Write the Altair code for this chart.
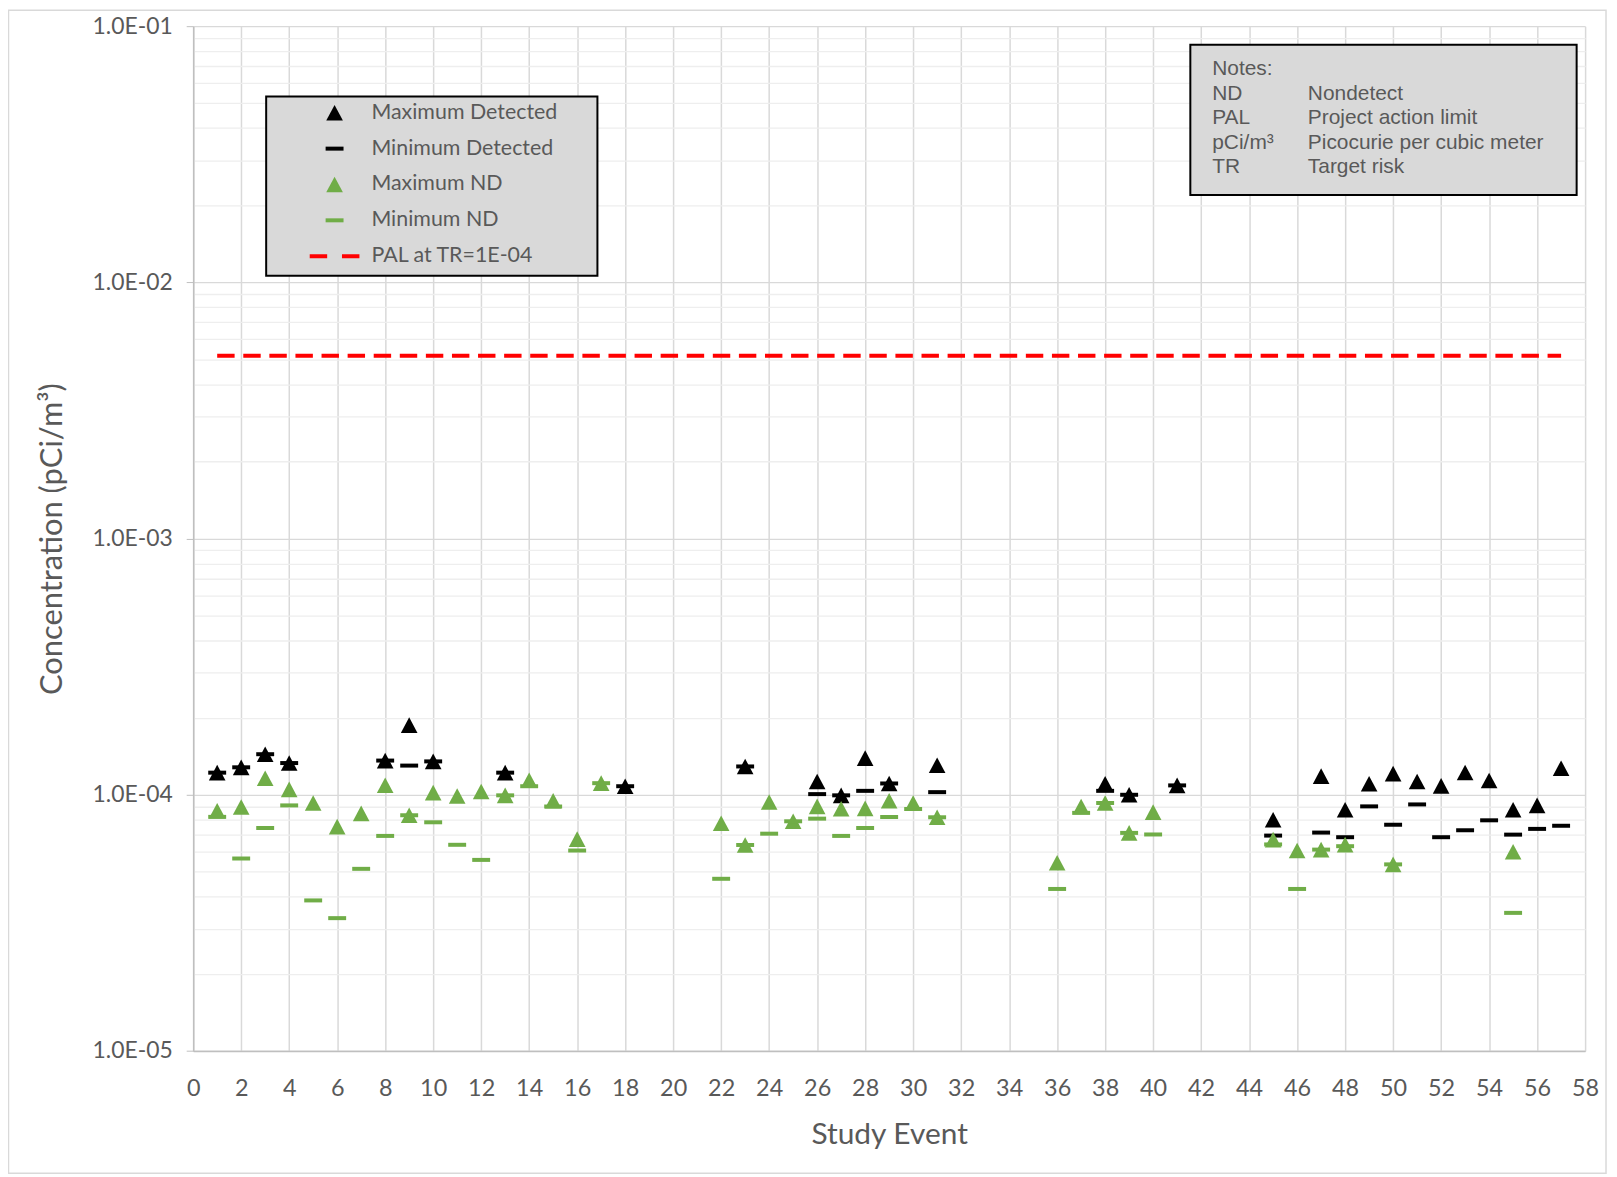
import altair as alt
import pandas as pd

N = None
events = list(range(1, 58))
max_detected = [1.22e-4, 1.28e-4, 1.44e-4, 1.33e-4, N, N, N, 1.36e-4, 1.87e-4, 1.35e-4,
                N, N, 1.22e-4, N, N, N, N, 1.08e-4, N, N,
                N, N, 1.29e-4, N, N, 1.127e-4, 9.95e-5, 1.39e-4, 1.107e-4, N,
                1.304e-4, N, N, N, N, N, N, 1.104e-4, 1.0e-4, N,
                1.088e-4, N, N, N, 7.99e-5, N, 1.182e-4, 8.74e-5, 1.104e-4, 1.21e-4,
                1.127e-4, 1.084e-4, 1.222e-4, 1.137e-4, 8.74e-5, 9.09e-5, 1.27e-4]
min_detected = [1.22e-4, 1.28e-4, 1.44e-4, 1.33e-4, N, N, N, 1.36e-4, 1.30e-4, 1.35e-4,
                N, N, 1.22e-4, N, N, N, N, 1.08e-4, N, N,
                N, N, 1.29e-4, N, N, 1.006e-4, 9.95e-5, 1.036e-4, 1.107e-4, N,
                1.024e-4, N, N, N, N, N, N, 1.036e-4, 1.0e-4, N,
                1.088e-4, N, N, N, 6.93e-5, N, 7.12e-5, 6.83e-5, 9.01e-5, 7.64e-5,
                9.17e-5, 6.83e-5, 7.27e-5, 7.95e-5, 6.99e-5, 7.36e-5, 7.57e-5]
max_nd = [8.66e-5, 8.96e-5, 1.16e-4, 1.05e-4, 9.29e-5, 7.51e-5, 8.46e-5, 1.09e-4, 8.32e-5, 1.02e-4,
          9.89e-5, 1.03e-4, 9.95e-5, 1.14e-4, 9.48e-5, 6.71e-5, 1.11e-4, N, N, N,
          N, 7.74e-5, 6.37e-5, 9.37e-5, 7.88e-5, 9.01e-5, 8.82e-5, 8.85e-5, 9.48e-5, 9.29e-5,
          8.17e-5, N, N, N, N, 5.43e-5, 9.0e-5, 9.29e-5, 7.1e-5, 8.56e-5,
          N, N, N, N, 6.68e-5, 6.06e-5, 6.11e-5, 6.39e-5, N, 5.35e-5,
          N, N, N, N, 5.99e-5, N, N]
min_nd = [8.2e-5, 5.64e-5, 7.42e-5, 9.09e-5, 3.87e-5, 3.30e-5, 5.14e-5, 6.91e-5, 8.32e-5, 7.81e-5,
          6.38e-5, 5.57e-5, 9.95e-5, 1.08e-4, 9.0e-5, 6.06e-5, 1.11e-4, N, N, N,
          N, 4.70e-5, 6.37e-5, 7.05e-5, 7.88e-5, 8.07e-5, 6.91e-5, 7.42e-5, 8.19e-5, 8.8e-5,
          8.17e-5, N, N, N, N, 4.29e-5, 8.5e-5, 9.29e-5, 7.1e-5, 7.0e-5,
          N, N, N, N, 6.4e-5, 4.29e-5, 6.11e-5, 6.3e-5, N, 5.35e-5,
          N, N, N, N, 3.46e-5, N, N]

pal_x = [1, 57]
pal_y = [0.00517, 0.00517]

series_names = ["Maximum Detected", "Minimum Detected", "Maximum ND", "Minimum ND", "PAL at TR=1E-04"]
series_colors = ["#000000", "#000000", "#70AD47", "#70AD47", "#FF0000"]

x_ticks = list(range(0, 59, 2))
y_major = [1e-5, 1e-4, 1e-3, 1e-2, 1e-1]
y_minor = [m * 10.0 ** e for e in range(-5, -1) for m in range(2, 10)]

note_abbr = ["Notes:", "ND", "PAL", "pCi/m³", "TR"]
note_text = ["", "Nondetect", "Project action limit", "Picocurie per cubic meter", "Target risk"]

# symbol shapes (unit = 12 px)
TRI = "M0,-0.654L0.696,0.654L-0.696,0.654Z"
DASH = "M-0.75,-0.167H0.75V0.167H-0.75Z"
PALDASH = "M-2.08,-0.167H-0.62V0.167H-2.08Z M0.62,-0.167H2.08V0.167H0.62Z"

rows = []
for name, arr in zip(series_names[:4], [max_detected, min_detected, max_nd, min_nd]):
    for e, v in zip(events, arr):
        if v is not None:
            rows.append({"event": e, "value": v, "series": name})
df = pd.DataFrame(rows)
pal_df = pd.DataFrame({"event": pal_x, "pal": pal_y})

FONT = "Lato"
GREY = "#595959"

x_scale = alt.Scale(domain=[0, 58], nice=False, zero=False)
y_scale = alt.Scale(type="log", domain=[1e-5, 1e-1], nice=False)

x_axis = alt.Axis(values=x_ticks, title="Study Event", grid=True, gridColor="#d9d9d9", gridWidth=1.5,
                  ticks=False, domainColor="#bfbfbf", domainWidth=1.5, labelPadding=26,
                  labelFontSize=23.5, titleFontSize=30, titlePadding=19, labelFlush=False)
y_axis = alt.Axis(values=y_major, title="Concentration (pCi/m³)", grid=True, gridColor="#d9d9d9",
                  gridWidth=1.3, tickColor="#bfbfbf", tickSize=7, domainColor="#bfbfbf", domainWidth=1.5,
                  labelExpr="'1.0E-0' + format(-log(datum.value)/LN10, '.0f')",
                  labelFontSize=23, labelPadding=14, titleFontSize=31, titlePadding=24, orient="left")
y_minor_axis = alt.Axis(values=y_minor, title=None, grid=True, gridColor="#eeeeee", gridWidth=1.3,
                        labels=False, ticks=False, domain=False, orient="left")

legend = alt.Legend(title=None, orient="none", legendX=73, legendY=69, labelLimit=500)

shape_scale = alt.Scale(domain=series_names, range=[TRI, DASH, TRI, DASH, PALDASH])
color_scale = alt.Scale(domain=series_names, range=series_colors)

pal = alt.Chart(pal_df).mark_line(color="#FF0000", strokeWidth=4, strokeDash=[17.5, 8.7], strokeCap="butt").encode(
    x=alt.X("event:Q", scale=x_scale, axis=x_axis),
    y=alt.Y("pal:Q", scale=y_scale, axis=y_minor_axis),
)

points = alt.Chart(df).mark_point(filled=True, size=576, opacity=1, strokeWidth=0).encode(
    x=alt.X("event:Q", scale=x_scale, axis=x_axis),
    y=alt.Y("value:Q", scale=y_scale, axis=y_axis),
    shape=alt.Shape("series:N", scale=shape_scale, legend=legend),
    color=alt.Color("series:N", scale=color_scale, legend=legend),
)

one = pd.DataFrame({"a": [0]})
border = alt.Chart(one).mark_rect(fill=None, stroke="#d9d9d9", strokeWidth=1.5).encode(
    x=alt.value(-185.5), x2=alt.value(1419), y=alt.value(-16), y2=alt.value(1152)
)

legend_box = alt.Chart(one).mark_rect(fill="#d9d9d9", stroke="#000000", strokeWidth=2).encode(
    x=alt.value(73.3), x2=alt.value(406), y=alt.value(70.6), y2=alt.value(250.6)
)

notes_box = alt.Chart(one).mark_rect(fill="#d9d9d9", stroke="#000000", strokeWidth=2).encode(
    x=alt.value(1001.5), x2=alt.value(1389.5), y=alt.value(18.6), y2=alt.value(169.6)
)
notes_left = alt.Chart(one).mark_text(
    align="left", baseline="alphabetic", font="Liberation Sans", fontSize=21, color=GREY, lineHeight=24.7
).encode(x=alt.value(1023.5), y=alt.value(49.0), text=alt.value(note_abbr))
notes_right = alt.Chart(one).mark_text(
    align="left", baseline="alphabetic", font="Liberation Sans", fontSize=21, color=GREY, lineHeight=24.7
).encode(x=alt.value(1119.5), y=alt.value(49.0), text=alt.value(note_text))

chart = alt.layer(border, pal, points, legend_box, notes_box, notes_left, notes_right).resolve_axis(
    y="independent"
).properties(
    width=1398, height=1029.3,
    autosize=alt.AutoSizeParams(type="none"),
    padding={"left": 186, "top": 15.7, "right": 24, "bottom": 122},
).configure_view(stroke=None).configure_axis(
    labelFont=FONT, titleFont=FONT, labelColor=GREY, titleColor=GREY, titleFontWeight="normal"
).configure_legend(
    labelFont=FONT, labelFontSize=21.5, labelColor=GREY, symbolSize=576, symbolStrokeWidth=0,
    padding=6, rowPadding=13, symbolOffset=51, labelOffset=25, symbolOpacity=1
)

chart.save("out.html", embed_options={"renderer": "svg", "actions": False})
